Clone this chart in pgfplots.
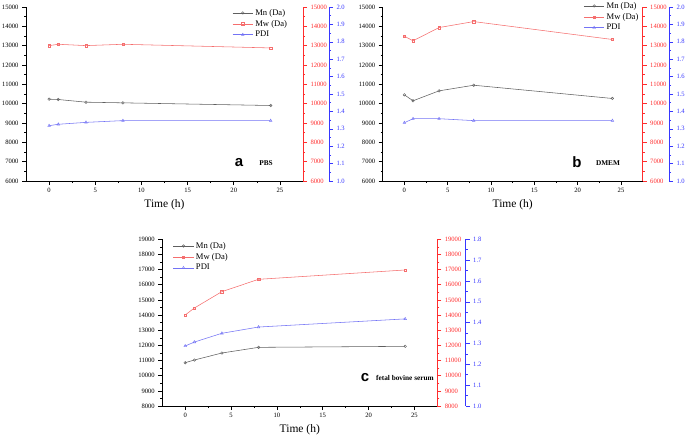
\documentclass[border=0pt]{standalone}
\usepackage{pgfplots}
\pgfplotsset{compat=1.18}
\usepackage{fontspec}
\setmainfont{Liberation Serif}
\newfontfamily\arial{Liberation Sans}
\definecolor{mncol}{RGB}{95,95,95}
\definecolor{mwcol}{RGB}{245,110,110}
\definecolor{pdicol}{RGB}{115,115,245}
\definecolor{redax}{RGB}{255,45,45}
\definecolor{blueax}{RGB}{55,55,255}
\pgfplotsset{
  base/.style={scale only axis, xmin=-2.5, xmax=27.5, clip=false,
    scaled ticks=false,
    /pgf/number format/assume math mode=true,
    /pgf/number format/set thousands separator={},
    tick label style={font=\fontsize{6.6}{7}\selectfont},
    major tick length=4pt, minor tick length=2pt, tick align=outside,
    axis line style={-, line width=0.8pt},
    every tick/.style={line width=0.6pt},
  },
  mainax/.style={base, axis x line*=bottom, axis y line*=left,
    xtick={0,5,...,25}, minor x tick num=1, minor y tick num=1,
    xlabel={Time (h)}, xlabel style={font=\fontsize{11.5}{12}\selectfont, yshift=0pt},
    legend cell align=left,
    legend style={draw=none, fill=none, font=\fontsize{8.6}{9}\selectfont,
      row sep=-0.5pt, inner sep=0pt},
    legend image code/.code={\draw[mark repeat=2,mark phase=2] plot coordinates {(0cm,0cm) (0.36cm,0cm) (0.72cm,0cm)};},
  },
  redaxis/.style={base, axis x line=none, xtick=\empty, axis y line*=right,
    minor y tick num=1, y axis line style={redax}, yticklabel style={text=redax},
    every y tick/.style={redax, line width=0.6pt}},
  blueaxis/.style={base, axis x line=none, xtick=\empty, axis y line*=right,
    minor y tick num=1, y axis line style={blueax}, yticklabel style={text=blueax},
    every y tick/.style={blueax, line width=0.6pt},
    ytick distance=0.1,
    yticklabel style={/pgf/number format/.cd, fixed, fixed zerofill, precision=1}},
  mn/.style={mncol, line width=0.55pt, mark=o, mark size=1.3pt, mark options={solid, line width=0.45pt}},
  mw/.style={mwcol, line width=0.55pt, mark=square, mark size=1.2pt, mark options={solid, line width=0.45pt}},
  pdi/.style={pdicol, line width=0.55pt, mark=triangle, mark size=1.5pt, mark options={solid, line width=0.45pt}},
}
\begin{document}
\begin{tikzpicture}
\useasboundingbox (0,0) rectangle (685pt,-436pt);
% ---------- panel a ----------
\begin{axis}[mainax, at={(26pt,-181pt)}, anchor=south west, width=277pt, height=174pt,
  ymin=6000, ymax=15000, ytick distance=1000,
  legend style={at={(0.744,1.0)}, anchor=north west}]
\addplot[mn] coordinates {(0,10232) (1,10215) (4,10077) (8,10043) (24,9905)};
\addlegendentry{Mn (Da)}
\addlegendimage{mw}\addlegendentry{Mw (Da)}
\addlegendimage{pdi}\addlegendentry{PDI}
\node[font=\arial\bfseries\fontsize{15}{15}\selectfont] at (axis cs:20.57,6931) {a};
\node[font=\bfseries\fontsize{7.3}{8}\selectfont] at (axis cs:23.5,6931) {PBS};
\end{axis}
\begin{axis}[redaxis, at={(26pt,-181pt)}, anchor=south west, width=277pt, height=174pt,
  ymin=6000, ymax=15000, ytick distance=1000]
\addplot[mw] coordinates {(0,13003) (1,13072) (4,13003) (8,13072) (24,12883)};
\end{axis}
\begin{axis}[blueaxis, at={(26pt,-181pt)}, anchor=south west, width=303pt, height=174pt,
  xmax=30.32, ymin=1.0, ymax=2.0]
\addplot[pdi] coordinates {(0,1.318) (1,1.326) (4,1.337) (8,1.347) (24,1.347)};
\end{axis}
% ---------- panel b ----------
\begin{axis}[mainax, at={(382.7pt,-181pt)}, anchor=south west, width=260pt, height=174pt,
  ymin=6000, ymax=15000, ytick distance=1000,
  legend style={at={(0.772,1.04)}, anchor=north west}]
\addplot[mn] coordinates {(0,10457) (1,10149) (4,10663) (8,10954) (24,10269)};
\addlegendentry{Mn (Da)}
\addlegendimage{mw}\addlegendentry{Mw (Da)}
\addlegendimage{pdi}\addlegendentry{PDI}
\node[font=\arial\bfseries\fontsize{15}{15}\selectfont] at (axis cs:19.92,6980) {b};
\node[font=\bfseries\fontsize{7.3}{8}\selectfont] at (axis cs:23.5,6931) {DMEM};
\end{axis}
\begin{axis}[redaxis, at={(382.7pt,-181pt)}, anchor=south west, width=260pt, height=174pt,
  ymin=6000, ymax=15000, ytick distance=1000]
\addplot[mw] coordinates {(0,13491) (1,13251) (4,13937) (8,14246) (24,13320)};
\end{axis}
\begin{axis}[blueaxis, at={(382.7pt,-181pt)}, anchor=south west, width=286.3pt, height=174pt,
  xmax=30.53, ymin=1.0, ymax=2.0]
\addplot[pdi] coordinates {(0,1.335) (1,1.358) (4,1.358) (8,1.347) (24,1.347)};
\end{axis}
% ---------- panel c ----------
\begin{axis}[mainax, at={(162.3pt,-406pt)}, anchor=south west, width=275pt, height=166.7pt,
  ymin=8000, ymax=19000, ytick distance=1000,
  legend style={at={(0.038,0.995)}, anchor=north west}]
\addplot[mn] coordinates {(0,10860) (1,11035) (4,11497) (8,11871) (24,11937)};
\addlegendentry{Mn (Da)}
\addlegendimage{mw}\addlegendentry{Mw (Da)}
\addlegendimage{pdi}\addlegendentry{PDI}
\node[font=\arial\bfseries\fontsize{15}{15}\selectfont] at (axis cs:19.61,9848) {c};
\node[font=\bfseries\fontsize{7.3}{8}\selectfont] at (axis cs:23.97,9848) {fetal bovine serum};
\end{axis}
\begin{axis}[redaxis, at={(162.3pt,-406pt)}, anchor=south west, width=275pt, height=166.7pt,
  ymin=8000, ymax=19000, ytick distance=1000]
\addplot[mw] coordinates {(0,14006) (1,14468) (4,15546) (8,16360) (24,16976)};
\end{axis}
\begin{axis}[blueaxis, at={(162.3pt,-406pt)}, anchor=south west, width=303.4pt, height=166.7pt,
  xmax=30.6, ymin=1.0, ymax=1.8]
\addplot[pdi] coordinates {(0,1.288) (1,1.307) (4,1.349) (8,1.379) (24,1.418)};
\end{axis}
\end{tikzpicture}
\end{document}
